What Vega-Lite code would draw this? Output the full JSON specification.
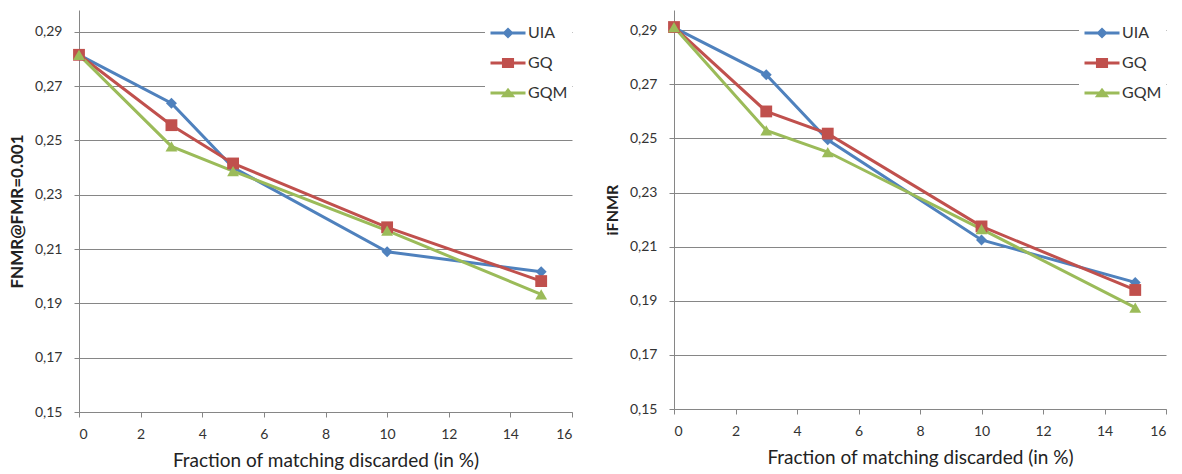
{
  "$schema": "https://vega.github.io/schema/vega-lite/v6.json",
  "padding": {"left": 8, "top": 10, "right": 5, "bottom": 0},
  "background": "white",
  "config": {
    "view": {"stroke": null},
    "font": "Lato",
    "axis": {
      "domainColor": "#868686",
      "tickColor": "#868686",
      "gridColor": "#868686",
      "labelFontSize": 14,
      "labelColor": "#333333",
      "titleColor": "#222222",
      "titleFontSize": 15,
      "tickSize": 5
    },
    "legend": {
      "labelFontSize": 16,
      "labelColor": "#333333",
      "fillColor": "white",
      "orient": "top-right",
      "offset": 0,
      "padding": 4,
      "symbolSize": 1225,
      "symbolStrokeWidth": 3,
      "symbolOpacity": 1,
      "labelOffset": 1,
      "rowPadding": 1
    }
  },
  "datasets": {
    "left": [
      {"x": 0, "series": "UIA", "v": 0.2815},
      {"x": 3, "series": "UIA", "v": 0.2637},
      {"x": 5, "series": "UIA", "v": 0.2400},
      {"x": 10, "series": "UIA", "v": 0.2090},
      {"x": 15, "series": "UIA", "v": 0.2016},
      {"x": 0, "series": "GQ", "v": 0.2815},
      {"x": 3, "series": "GQ", "v": 0.2556},
      {"x": 5, "series": "GQ", "v": 0.2415},
      {"x": 10, "series": "GQ", "v": 0.2180},
      {"x": 15, "series": "GQ", "v": 0.1982},
      {"x": 0, "series": "GQM", "v": 0.2815},
      {"x": 3, "series": "GQM", "v": 0.2478},
      {"x": 5, "series": "GQM", "v": 0.2387},
      {"x": 10, "series": "GQM", "v": 0.2168},
      {"x": 15, "series": "GQM", "v": 0.1933}
    ],
    "right": [
      {"x": 0, "series": "UIA", "v": 0.2910},
      {"x": 3, "series": "UIA", "v": 0.2736},
      {"x": 5, "series": "UIA", "v": 0.2495},
      {"x": 10, "series": "UIA", "v": 0.2125},
      {"x": 15, "series": "UIA", "v": 0.1968},
      {"x": 0, "series": "GQ", "v": 0.2912},
      {"x": 3, "series": "GQ", "v": 0.2600},
      {"x": 5, "series": "GQ", "v": 0.2518},
      {"x": 10, "series": "GQ", "v": 0.2175},
      {"x": 15, "series": "GQ", "v": 0.1940},
      {"x": 0, "series": "GQM", "v": 0.2912},
      {"x": 3, "series": "GQM", "v": 0.2530},
      {"x": 5, "series": "GQM", "v": 0.2450},
      {"x": 10, "series": "GQM", "v": 0.2165},
      {"x": 15, "series": "GQM", "v": 0.1875}
    ]
  },
  "spacing": 31,
  "resolve": {"scale": {"color": "independent", "shape": "independent", "stroke": "independent", "x": "independent", "y": "independent"}},
  "hconcat": [
    {
      "width": 493,
      "height": 402,
      "data": {"name": "left"},
      "encoding": {
        "x": {"field": "x", "type": "quantitative", "scale": {"domain": [0, 16], "nice": false, "zero": false}, "axis": {"values": [0, 2, 4, 6, 8, 10, 12, 14, 16], "grid": false, "title": "Fraction of matching discarded (in %)", "titleFontWeight": "normal", "titleFontSize": 19, "labelPadding": 10, "titlePadding": 10}},
        "y": {"field": "v", "type": "quantitative", "scale": {"domain": [0.15, 0.298], "nice": false, "zero": false}, "axis": {"values": [0.15, 0.17, 0.19, 0.21, 0.23, 0.25, 0.27, 0.29], "grid": true, "labelExpr": "replace(format(datum.value, '.2f'), '.', ',')", "title": "FNMR@FMR=0.001", "titleFontWeight": "bold", "titleFontSize": 17, "labelPadding": 12, "titlePadding": 8}}
      },
      "layer": [
        {
          "mark": {"type": "line", "strokeWidth": 3},
          "encoding": {"color": {"field": "series", "type": "nominal", "scale": {"domain": ["UIA", "GQ", "GQM"], "range": ["#4F81BD", "#C0504D", "#9BBB59"]}, "legend": null}}
        },
        {
          "transform": [{"filter": "datum.series == 'UIA'"}],
          "mark": {"type": "point", "shape": "diamond", "filled": true, "opacity": 1, "color": "#4F81BD", "size": 120}
        },
        {
          "transform": [{"filter": "datum.series == 'GQ'"}],
          "mark": {"type": "point", "shape": "square", "filled": true, "opacity": 1, "color": "#C0504D", "size": 140}
        },
        {
          "transform": [{"filter": "datum.series == 'GQM'"}],
          "mark": {"type": "point", "shape": "triangle-up", "filled": true, "opacity": 1, "color": "#9BBB59", "size": 140}
        },
        {
          "mark": {"type": "point", "filled": false, "opacity": 0, "strokeWidth": 3},
          "encoding": {
            "stroke": {"field": "series", "type": "nominal", "scale": {"domain": ["UIA", "GQ", "GQM"], "range": ["#4F81BD", "#C0504D", "#9BBB59"]}, "legend": {"title": null}},
            "shape": {"field": "series", "type": "nominal", "scale": {"domain": ["UIA", "GQ", "GQM"], "range": ["M-1,0H1M0,-0.2L0.2,0L0,0.2L-0.2,0ZM0,-0.1L0.1,0L0,0.1L-0.1,0Z", "M-1,0H1M-0.26,-0.2H0.26V0.2H-0.26ZM-0.17,-0.11H0.17V0.11H-0.17ZM-0.08,-0.03H0.08V0.03H-0.08Z", "M-1,0H1M0,-0.16L0.24,0.16H-0.24ZM0,-0.05L0.1,0.09H-0.1Z"]}, "legend": {"title": null}}
          }
        }
      ],
      "resolve": {"scale": {"stroke": "independent", "shape": "independent"}, "legend": {"stroke": "independent", "shape": "independent"}}
    },
    {
      "width": 492,
      "height": 399,
      "data": {"name": "right"},
      "encoding": {
        "x": {"field": "x", "type": "quantitative", "scale": {"domain": [0, 16], "nice": false, "zero": false}, "axis": {"values": [0, 2, 4, 6, 8, 10, 12, 14, 16], "grid": false, "title": "Fraction of matching discarded (in %)", "titleFontWeight": "normal", "titleFontSize": 19, "labelPadding": 10, "titlePadding": 10}},
        "y": {"field": "v", "type": "quantitative", "scale": {"domain": [0.15, 0.2975], "nice": false, "zero": false}, "axis": {"values": [0.15, 0.17, 0.19, 0.21, 0.23, 0.25, 0.27, 0.29], "grid": true, "labelExpr": "replace(format(datum.value, '.2f'), '.', ',')", "title": "iFNMR", "titleFontWeight": "bold", "titleFontSize": 16, "labelPadding": 12, "titlePadding": 9}}
      },
      "layer": [
        {
          "mark": {"type": "line", "strokeWidth": 3},
          "encoding": {"color": {"field": "series", "type": "nominal", "scale": {"domain": ["UIA", "GQ", "GQM"], "range": ["#4F81BD", "#C0504D", "#9BBB59"]}, "legend": null}}
        },
        {
          "transform": [{"filter": "datum.series == 'UIA'"}],
          "mark": {"type": "point", "shape": "diamond", "filled": true, "opacity": 1, "color": "#4F81BD", "size": 120}
        },
        {
          "transform": [{"filter": "datum.series == 'GQ'"}],
          "mark": {"type": "point", "shape": "square", "filled": true, "opacity": 1, "color": "#C0504D", "size": 140}
        },
        {
          "transform": [{"filter": "datum.series == 'GQM'"}],
          "mark": {"type": "point", "shape": "triangle-up", "filled": true, "opacity": 1, "color": "#9BBB59", "size": 140}
        },
        {
          "mark": {"type": "point", "filled": false, "opacity": 0, "strokeWidth": 3},
          "encoding": {
            "stroke": {"field": "series", "type": "nominal", "scale": {"domain": ["UIA", "GQ", "GQM"], "range": ["#4F81BD", "#C0504D", "#9BBB59"]}, "legend": {"title": null}},
            "shape": {"field": "series", "type": "nominal", "scale": {"domain": ["UIA", "GQ", "GQM"], "range": ["M-1,0H1M0,-0.2L0.2,0L0,0.2L-0.2,0ZM0,-0.1L0.1,0L0,0.1L-0.1,0Z", "M-1,0H1M-0.26,-0.2H0.26V0.2H-0.26ZM-0.17,-0.11H0.17V0.11H-0.17ZM-0.08,-0.03H0.08V0.03H-0.08Z", "M-1,0H1M0,-0.16L0.24,0.16H-0.24ZM0,-0.05L0.1,0.09H-0.1Z"]}, "legend": {"title": null}}
          }
        }
      ],
      "resolve": {"scale": {"stroke": "independent", "shape": "independent"}, "legend": {"stroke": "independent", "shape": "independent"}}
    }
  ]
}
